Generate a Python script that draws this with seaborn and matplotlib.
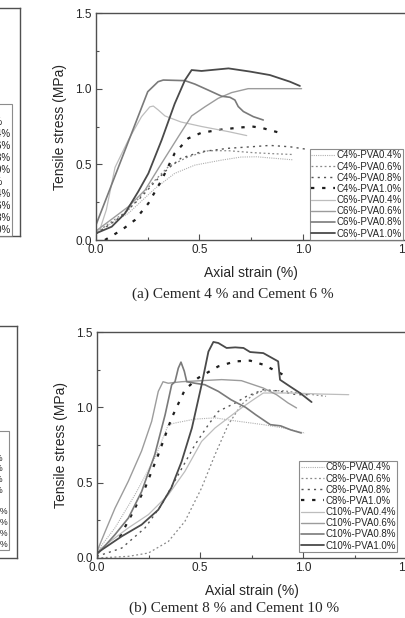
import numpy as np
import pandas as pd
import matplotlib
matplotlib.use("Agg")
import matplotlib.pyplot as plt
import seaborn as sns

sns.set_style("ticks")
plt.rcParams["font.family"] = ["Liberation Sans", "DejaVu Sans"]

# ---- panel (a): cement 4 % (dotted) and cement 6 % (solid) ----
c4_04_x = [0.0, 0.156, 0.285, 0.38, 0.478, 0.607, 0.70, 0.776, 0.86, 0.95]
c4_04_y = [0.05, 0.176, 0.34, 0.44, 0.495, 0.528, 0.548, 0.55, 0.54, 0.53]
c4_06_x = [0.0, 0.156, 0.27, 0.35, 0.446, 0.543, 0.64, 0.76, 0.86, 0.95]
c4_06_y = [0.05, 0.198, 0.374, 0.485, 0.55, 0.59, 0.59, 0.577, 0.57, 0.565]
c4_08_x = [0.0, 0.12, 0.22, 0.285, 0.35, 0.41, 0.51, 0.64, 0.76, 0.84, 0.937, 1.025]
c4_08_y = [0.04, 0.154, 0.286, 0.385, 0.474, 0.54, 0.584, 0.606, 0.617, 0.625, 0.616, 0.598]
c4_10_x = [0.043, 0.124, 0.188, 0.253, 0.317, 0.38, 0.446, 0.51, 0.607, 0.70, 0.76, 0.808, 0.897]
c4_10_y = [0.0, 0.066, 0.132, 0.242, 0.396, 0.573, 0.672, 0.709, 0.73, 0.744, 0.749, 0.738, 0.705]

c6_04_x = [0.0, 0.019, 0.05, 0.092, 0.156, 0.22, 0.26, 0.277, 0.30, 0.333, 0.41, 0.51, 0.64, 0.728]
c6_04_y = [0.06, 0.07, 0.2, 0.48, 0.66, 0.815, 0.88, 0.885, 0.86, 0.82, 0.78, 0.75, 0.716, 0.69]
c6_06_x = [0.0, 0.092, 0.156, 0.237, 0.317, 0.398, 0.462, 0.526, 0.59, 0.655, 0.735, 0.84, 0.993]
c6_06_y = [0.06, 0.154, 0.22, 0.33, 0.507, 0.683, 0.82, 0.88, 0.936, 0.974, 1.0, 1.0, 1.0]
c6_08_x = [0.0, 0.25, 0.30, 0.325, 0.43, 0.478, 0.543, 0.607, 0.647, 0.671, 0.687, 0.712, 0.76, 0.808]
c6_08_y = [0.1, 0.98, 1.046, 1.057, 1.053, 1.03, 0.99, 0.95, 0.943, 0.925, 0.882, 0.849, 0.815, 0.793]
c6_10_x = [0.0, 0.076, 0.14, 0.204, 0.253, 0.317, 0.38, 0.43, 0.462, 0.51, 0.64, 0.744, 0.84, 0.937, 0.985]
c6_10_y = [0.044, 0.088, 0.176, 0.32, 0.44, 0.66, 0.90, 1.057, 1.123, 1.117, 1.134, 1.113, 1.09, 1.046, 1.018]

# ---- panel (b): cement 8 % (dotted) and cement 10 % (solid) ----
c8_04_x = [0.0, 0.087, 0.184, 0.28, 0.346, 0.378, 0.475, 0.572, 0.67, 0.806, 0.903, 1.008]
c8_04_y = [0.044, 0.2, 0.42, 0.664, 0.885, 0.896, 0.922, 0.93, 0.91, 0.885, 0.863, 0.829]
c8_06_x = [0.0, 0.152, 0.249, 0.346, 0.426, 0.507, 0.572, 0.636, 0.70, 0.757, 0.806, 0.903, 0.984, 1.11]
c8_06_y = [0.0, 0.011, 0.033, 0.11, 0.243, 0.465, 0.686, 0.885, 1.018, 1.084, 1.11, 1.11, 1.095, 1.073]
c8_08_x = [0.0, 0.12, 0.233, 0.313, 0.394, 0.475, 0.54, 0.588, 0.67, 0.725, 0.806, 0.87, 0.967, 1.03]
c8_08_y = [0.011, 0.066, 0.2, 0.354, 0.553, 0.752, 0.885, 0.973, 1.029, 1.073, 1.117, 1.11, 1.084, 1.084]
c8_10_x = [0.11, 0.168, 0.233, 0.297, 0.362, 0.426, 0.49, 0.588, 0.67, 0.742, 0.806, 0.87, 0.926]
c8_10_y = [0.14, 0.288, 0.465, 0.686, 0.93, 1.117, 1.195, 1.272, 1.305, 1.31, 1.283, 1.239, 1.199]

c10_04_x = [0.0, 0.152, 0.249, 0.346, 0.426, 0.507, 0.572, 0.636, 0.70, 0.757, 0.806, 0.935, 1.09, 1.22]
c10_04_y = [0.044, 0.2, 0.288, 0.42, 0.575, 0.774, 0.863, 0.93, 0.996, 1.05, 1.095, 1.095, 1.088, 1.084]
c10_06_x = [0.0, 0.04, 0.087, 0.152, 0.216, 0.265, 0.297, 0.32, 0.345, 0.41, 0.507, 0.604, 0.70, 0.806, 0.87, 0.926, 0.967]
c10_06_y = [0.044, 0.177, 0.33, 0.51, 0.71, 0.907, 1.106, 1.17, 1.16, 1.17, 1.177, 1.184, 1.177, 1.128, 1.084, 1.029, 0.996]
c10_08_x = [0.0, 0.087, 0.152, 0.216, 0.28, 0.33, 0.362, 0.378, 0.394, 0.407, 0.423, 0.435, 0.475, 0.523, 0.588, 0.65, 0.72, 0.77, 0.84, 0.89, 0.94, 0.99]
c10_08_y = [0.022, 0.155, 0.265, 0.44, 0.686, 0.95, 1.15, 1.17, 1.26, 1.30, 1.24, 1.17, 1.16, 1.15, 1.106, 1.05, 1.0, 0.95, 0.885, 0.877, 0.85, 0.83]
c10_10_x = [0.0, 0.12, 0.216, 0.297, 0.36, 0.41, 0.46, 0.507, 0.54, 0.564, 0.588, 0.628, 0.67, 0.71, 0.742, 0.806, 0.878, 0.887, 0.935, 0.984, 1.04]
c10_10_y = [0.033, 0.144, 0.221, 0.32, 0.465, 0.64, 0.863, 1.15, 1.37, 1.434, 1.427, 1.394, 1.398, 1.394, 1.367, 1.36, 1.305, 1.183, 1.139, 1.095, 1.035]

labels_a = ["C4%-PVA0.4%", "C4%-PVA0.6%", "C4%-PVA0.8%", "C4%-PVA1.0%",
            "C6%-PVA0.4%", "C6%-PVA0.6%", "C6%-PVA0.8%", "C6%-PVA1.0%"]
labels_b = ["C8%-PVA0.4%", "C8%-PVA0.6%", "C8%-PVA0.8%", "C8%-PVA1.0%",
            "C10%-PVA0.4%", "C10%-PVA0.6%", "C10%-PVA0.8%", "C10%-PVA1.0%"]
# legend of the neighbouring (cropped) panels
left_labels_a = ["C0%", "C4%-PVA0%", "C4%-PVA0.4%", "C4%-PVA0.6%", "C4%-PVA0.8%", "C4%-PVA1.0%",
                 "C6%-PVA0%", "C6%-PVA0.4%", "C6%-PVA0.6%", "C6%-PVA0.8%", "C6%-PVA1.0%"]
left_labels_b = ["C0%", "C8%-PVA0%", "C8%-PVA0.4%", "C8%-PVA0.6%", "C8%-PVA0.8%", "C8%-PVA1.0%",
                 "C10%-PVA0%", "C10%-PVA0.4%", "C10%-PVA0.6%", "C10%-PVA0.8%", "C10%-PVA1.0%"]

curves_a = [(c4_04_x, c4_04_y), (c4_06_x, c4_06_y), (c4_08_x, c4_08_y), (c4_10_x, c4_10_y),
            (c6_04_x, c6_04_y), (c6_06_x, c6_06_y), (c6_08_x, c6_08_y), (c6_10_x, c6_10_y)]
curves_b = [(c8_04_x, c8_04_y), (c8_06_x, c8_06_y), (c8_08_x, c8_08_y), (c8_10_x, c8_10_y),
            (c10_04_x, c10_04_y), (c10_06_x, c10_06_y), (c10_08_x, c10_08_y), (c10_10_x, c10_10_y)]

styles = [
    ("#b0b0b0", (0, (1, 1)), 0.8),
    ("#8a8a8a", (0, (1.5, 2)), 0.9),
    ("#555555", (0, (1.5, 3)), 1.0),
    ("#1e1e1e", (0, (1.5, 3.5)), 1.6),
    ("#bdbdbd", "-", 0.9),
    ("#9c9c9c", "-", 1.0),
    ("#7a7a7a", "-", 1.2),
    ("#4a4a4a", "-", 1.3),
]

SPINE = "#505050"

fig = plt.figure(figsize=(4.06, 6.18), dpi=100)


def draw_panel(rect, curves, labels, leg_anchor):
    ax = fig.add_axes(rect)
    for (xs, ys), lab, (col, ls, lw) in zip(curves, labels, styles):
        df = pd.DataFrame({"x": xs, "y": ys})
        sns.lineplot(data=df, x="x", y="y", ax=ax, sort=False, estimator=None,
                     color=col, linestyle=ls, lw=lw, label=lab)
    ax.set_xlim(0, 1.5)
    ax.set_ylim(0, 1.5)
    ax.set_xticks([0.0, 0.5, 1.0, 1.5])
    ax.set_xticklabels(["0.0", "0.5", "1.0", "1.5"])
    ax.set_yticks([0.0, 0.5, 1.0, 1.5])
    ax.set_yticklabels(["0.0", "0.5", "1.0", "1.5"])
    ax.set_xticks([0.25, 0.75, 1.25], minor=True)
    ax.set_yticks([0.25, 0.75, 1.25], minor=True)
    ax.tick_params(which="both", direction="in", top=False, right=False,
                   labelsize=8.5, color=SPINE)
    ax.tick_params(which="major", length=4, width=0.8, pad=3)
    ax.tick_params(which="minor", length=2.5, width=0.8)
    for s in ax.spines.values():
        s.set_color(SPINE)
        s.set_linewidth(1.0)
    ax.set_xlabel("Axial strain (%)", fontsize=10)
    ax.set_ylabel("Tensile stress (MPa)", fontsize=10)
    ax.yaxis.set_label_coords(-0.095, 0.5)
    ax.xaxis.set_label_coords(0.5, -0.115)
    leg = ax.legend(loc="lower right", bbox_to_anchor=leg_anchor, fontsize=7,
                    handlelength=2.4, handletextpad=0.15, labelspacing=0.12,
                    borderpad=0.15, borderaxespad=0, frameon=True, fancybox=False)
    leg.get_frame().set_edgecolor("#707070")
    leg.get_frame().set_linewidth(0.8)
    return ax


def draw_neighbour(rect, labels, leg_anchor, fs):
    ax = fig.add_axes(rect)
    for lab in labels:
        ax.plot([], [], color="#777777", lw=1.0, label=lab)
    ax.set_xticks([])
    ax.set_yticks([])
    for s in ax.spines.values():
        s.set_color(SPINE)
        s.set_linewidth(1.0)
    leg = ax.legend(loc="lower right", bbox_to_anchor=leg_anchor, fontsize=fs,
                    handlelength=2.0, handletextpad=0.15, labelspacing=0.2,
                    borderpad=0.15, borderaxespad=0, frameon=True, fancybox=False)
    leg.get_frame().set_edgecolor("#707070")
    leg.get_frame().set_linewidth(0.8)


W, H = 406.0, 618.0

draw_neighbour([-280 / W, 1 - 236 / H, 300 / W, 228 / H], left_labels_a,
               (1 - 8 / 300, 0.0), 7)
draw_neighbour([-283 / W, 1 - 558 / H, 300 / W, 232 / H], left_labels_b,
               (1 - 8 / 300, 8 / 232), 6.3)

draw_panel([96 / W, 1 - 240 / H, 310.5 / W, 227 / H], curves_a, labels_a,
           (1 - 3.5 / 310.5, 0.0))
draw_panel([97 / W, 1 - 558 / H, 309.5 / W, 226 / H], curves_b, labels_b,
           (1 - 9 / 309.5, 6 / 226))

fig.text(233 / W, 1 - 294 / H, "(a) Cement 4 % and Cement 6 %", ha="center",
         va="center", fontsize=11, family=["Liberation Serif", "DejaVu Serif"])
fig.text(234 / W, 1 - 608 / H, "(b) Cement 8 % and Cement 10 %", ha="center",
         va="center", fontsize=11, family=["Liberation Serif", "DejaVu Serif"])

fig.savefig("out.png", dpi=100)
